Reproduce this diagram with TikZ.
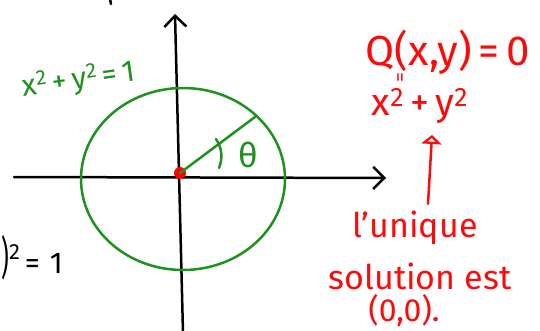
\documentclass[tikz,border=0pt]{standalone}
\usepackage{fontspec}
\setsansfont{Fira Sans}
\definecolor{inkgreen}{RGB}{30,145,30}
\definecolor{inkred}{RGB}{250,12,12}
\usetikzlibrary{positioning,arrows.meta}

\begin{document}
\begin{tikzpicture}[
      x=1pt,y=-1pt,
      line width=2.5pt,line cap=round,line join=round,
      axis/.style={-{Straight Barb[length=11pt,width=22pt,line width=2.5pt]}},
      curve/.style={inkgreen},
      lbl/.style={font=\sffamily\fontsize{#1}{#1}\selectfont,inner sep=0pt},
      lbl/.default=30,
      note/.style={lbl=#1,text=inkred},
      note/.default=34,
      pointer/.style={inkred,-{Triangle[open,length=9pt,width=20pt,line width=2.5pt]}}
    ]
    \useasboundingbox (0,0) rectangle (540,331);
    % axes
    \coordinate (xl) at (14,177);
    \coordinate (xr) at (386,178);
    \coordinate (yb) at (183,333);
    \coordinate (yt) at (175,14);
    \draw[axis] (xl) -- (xr);
    \draw[axis] (yb) -- (yt);
    \draw (110,-1) -- (111,4);
    % unit circle
    \coordinate (c) at (183,179);
    \coordinate (p) at (255,117);
    \draw[curve] (c) ellipse [x radius=102pt,y radius=91pt];
    \node[circle,fill=red,inner sep=0pt,minimum size=12pt] (o) at (180,173) {};
    \draw[curve] (o.center) -- (p);
    \draw[curve] (219,168) .. controls (223,158) and (222,148) .. (216,139);
    \node[lbl=34,text=inkgreen] (th) at (248,155) {θ};
    \node[lbl=30,text=inkgreen,rotate=8] (circ) at (79,80)
    {x\textsuperscript{2}\,+\,y\textsuperscript{2}\,=\,1};
    \node[lbl=30,anchor=west] (left) at (0,258)
    {\scalebox{0.8}[1.5]{)}\raisebox{14pt}{\fontsize{22}{22}\selectfont 2}\,=\,\,1};
    % notes
    \node[note=42] (q) at (448,52) {Q(x,y)\,=\,0};
    \node[note=20,rotate=90] (eq) at (402,78) {=};
    \node[note=38] (sum) at (420,106) {x\textsuperscript{2}\,+\,y\textsuperscript{2}};
    \node[note=34] (uniq) at (415,228) {l'unique};
    \node[note=34] (sol) at (420,276) {solution est};
    \node[note=32] (pt) at (404,311) {(0,0).};
    \draw[pointer] (uniq.north) ++(13,-6) -- (432,135);
  \end{tikzpicture}
\end{document}
